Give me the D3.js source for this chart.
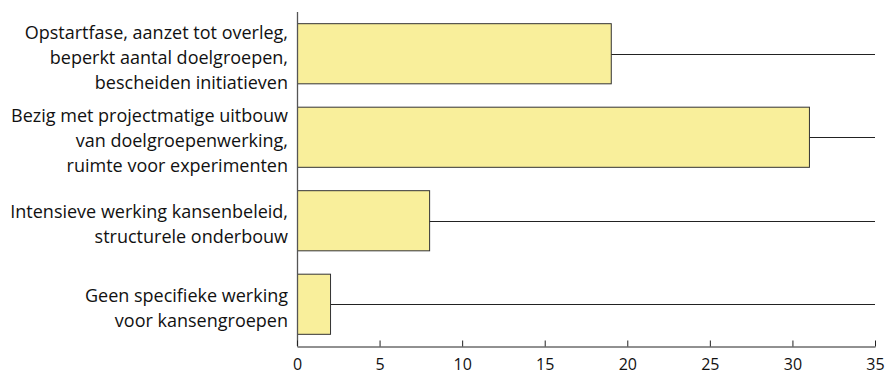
<!DOCTYPE html>
<html><head><meta charset="utf-8">
<script src="https://cdn.jsdelivr.net/npm/d3@7"></script>
<style>body{margin:0;background:#fff}svg{display:block}text{font-family:"Open Sans",sans-serif}</style>
</head><body><svg id="c" width="886" height="374"></svg>
<script>
const categories = [
  ["Opstartfase, aanzet tot overleg,", "beperkt aantal doelgroepen,", "bescheiden initiatieven"],
  ["Bezig met projectmatige uitbouw", "van doelgroepenwerking,", "ruimte voor experimenten"],
  ["Intensieve werking kansenbeleid,", "structurele onderbouw"],
  ["Geen specifieke werking", "voor kansengroepen"]
];
const values = [19, 31, 8, 2];
const xTicks = [0, 5, 10, 15, 20, 25, 30, 35];

(function(){
const svg = d3.select("#c");
const mLeft = 297, mRight = 875, mTop = 12, mBottom = 346;
const x = d3.scaleLinear().domain([0, 35]).range([mLeft, mRight]);
const y = d3.scaleBand().domain(d3.range(categories.length)).range([mTop, mBottom]).paddingInner(0.28).paddingOuter(0.14);

svg.append("g").selectAll("line").data(values).join("line")
  .attr("x1", x(0)).attr("x2", x(35))
  .attr("y1", (d,i)=>Math.round(y(i)+y.bandwidth()/2)+0.5)
  .attr("y2", (d,i)=>Math.round(y(i)+y.bandwidth()/2)+0.5)
  .attr("stroke", "#222").attr("stroke-width", 1);

svg.append("g").selectAll("rect").data(values).join("rect")
  .attr("x", x(0)+0.5).attr("y", (d,i)=>y(i))
  .attr("width", d=>x(d)-x(0)).attr("height", y.bandwidth())
  .attr("fill", "#f9ef9b").attr("stroke", "#333").attr("stroke-width", 1);

svg.append("line").attr("x1", mLeft+0.5).attr("x2", mLeft+0.5).attr("y1", mTop).attr("y2", mBottom)
  .attr("stroke", "#555").attr("stroke-width", 1.3);

const xa = svg.append("g").attr("transform", `translate(0,${mBottom+0.5})`)
  .call(d3.axisBottom(x).tickValues(xTicks).tickSize(6).tickPadding(0).tickSizeOuter(0));
xa.select(".domain").attr("stroke", "#222");
xa.selectAll(".tick line").attr("stroke", "#222").attr("transform","translate(0,-6)");
xa.selectAll(".tick text").attr("font-size", 16).attr("fill", "#111").attr("font-family", "Open Sans")
  .attr("y", 23).attr("dy", null);

const lh = 25;
categories.forEach((lines, i) => {
  const cy = y(i) + y.bandwidth()/2;
  const t = svg.append("text").attr("text-anchor", "end").attr("font-size", 18).attr("fill", "#111");
  const n = lines.length;
  lines.forEach((l, j) => {
    t.append("tspan").attr("x", 288).attr("y", cy + (j - (n-1)/2)*lh + 10).text(l);
  });
});
})();
</script></body></html>
